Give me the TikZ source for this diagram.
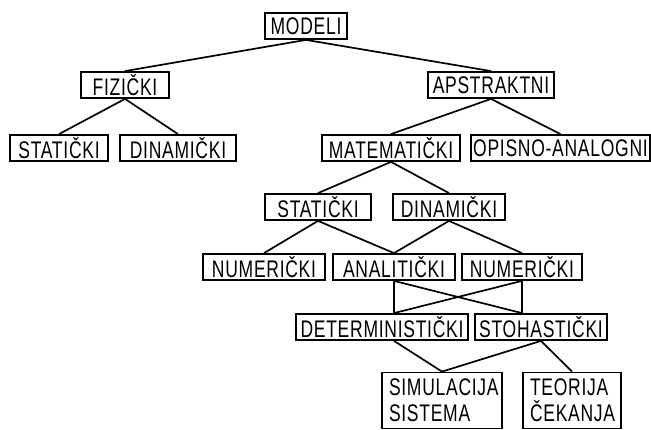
\documentclass[tikz,border=0pt]{standalone}
\usepackage{fontspec}
\setmainfont{Liberation Sans}[FakeStretch=0.73, LetterSpace=3]
\begin{document}
\begin{tikzpicture}[x=1pt,y=-1pt,
  box/.style={draw=black, line width=1.8pt, inner sep=0pt, minimum height=26pt, font=\fontsize{24}{26}\selectfont},
  tall/.style={box, minimum height=56pt, align=left, inner xsep=7pt},
  conn/.style={line width=1.7pt}]
\useasboundingbox[fill=white] (0,0) rectangle (651,430);
\node[box, minimum width=82pt] (mod) at (306,26) {MODELI};
\node[box, minimum width=88pt] (fiz) at (125,85) {FIZIČKI};
\node[box, minimum width=126pt] (aps) at (491,85) {APSTRAKTNI};
\node[box, minimum width=98pt] (st1) at (59,148) {STATIČKI};
\node[box, minimum width=116pt] (di1) at (178,148) {DINAMIČKI};
\node[box, minimum width=138pt] (mat) at (391,148) {MATEMATIČKI};
\node[box, minimum width=179pt] (opi) at (560.5,148) {OPISNO-ANALOGNI};
\node[box, minimum width=106pt] (st2) at (318,207) {STATIČKI};
\node[box, minimum width=112pt] (di2) at (449,207) {DINAMIČKI};
\node[box, minimum width=122pt] (nu1) at (264,267) {NUMERIČKI};
\node[box, minimum width=122pt] (ana) at (394,267) {ANALITIČKI};
\node[box, minimum width=120pt] (nu2) at (522,267) {NUMERIČKI};
\node[box, minimum width=172pt] (det) at (382,327) {DETERMINISTIČKI};
\node[box, minimum width=132pt] (sto) at (541,327) {STOHASTIČKI};
\node[tall, text width=106pt] (sim) at (442,400.5) {SIMULACIJA\\SISTEMA};
\node[tall, text width=84pt] (teo) at (572,400.5) {TEORIJA\\ČEKANJA};
\coordinate (dtop) at (ana.south |- det.north);
\coordinate (stoT) at (nu2.south |- sto.north);
\coordinate (dbot) at (ana.south |- det.south);
\draw[conn] (mod.south) -- (fiz.north);
\draw[conn] (mod.south) -- (aps.north);
\draw[conn] (fiz.south) -- (st1.north);
\draw[conn] (fiz.south) -- (di1.north);
\draw[conn] (aps.south) -- (mat.north);
\draw[conn] (aps.south) -- (opi.north);
\draw[conn] (mat.south) -- (st2.north);
\draw[conn] (mat.south) -- (di2.north);
\draw[conn] (st2.south) -- (nu1.north);
\draw[conn] (st2.south) -- (ana.north);
\draw[conn] (di2.south) -- (ana.north);
\draw[conn] (di2.south) -- (nu2.north);
\draw[conn] (ana.south) -- (dtop);
\draw[conn] (ana.south) -- (stoT);
\draw[conn] (nu2.south) -- (stoT);
\draw[conn] (nu2.south) -- (dtop);
\draw[conn] (dbot) -- (sim.north);
\draw[conn] (sto.south) -- (sim.north);
\draw[conn] (sto.south) -- (teo.north);
\end{tikzpicture}
\end{document}
